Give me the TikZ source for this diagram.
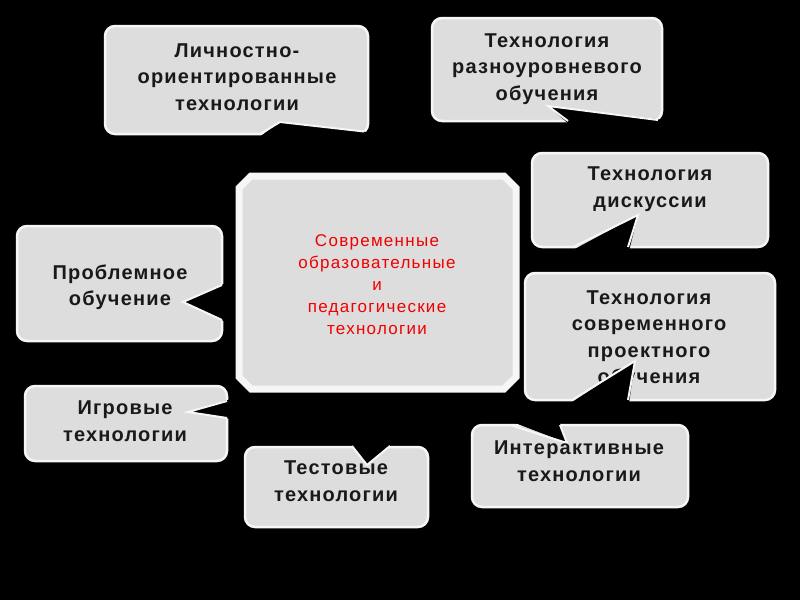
\documentclass[tikz,border=0pt]{standalone}
\usepackage{fontspec}
\setmainfont{Liberation Sans}
\definecolor{boxgrey}{RGB}{221,221,221}
\definecolor{boxedge}{RGB}{246,246,246}
\definecolor{txtred}{RGB}{240,0,0}
\tikzset{
  bubble/.style={fill=boxgrey, draw=boxedge, line width=2.5pt, rounded corners=10pt},
  notch/.style={fill=black},
  notchedge/.style={draw=boxedge, line width=2pt, line join=miter},
  lbl/.style={align=center, text=black!90, inner sep=0pt,
    font=\fontsize{20}{26.5}\selectfont\bfseries\addfontfeatures{LetterSpace=6}},
  redlbl/.style={align=center, text=txtred, inner sep=0pt,
    font=\fontsize{17}{22}\selectfont\addfontfeatures{LetterSpace=7.5}}
}
\begin{document}
\begin{tikzpicture}[x=1pt,y=-1pt]
\fill[black] (0,0) rectangle (800,600);
\useasboundingbox (0,0) rectangle (800,600);

% central box
\draw[fill=boxgrey, draw=boxedge, line width=7pt]
  (251,176) -- (504,176) -- (516,188) -- (516,377) -- (504,389)
  -- (251,389) -- (239,377) -- (239,188) -- cycle;
\node[redlbl] (c) at (377,285) {Современные\\образовательные\\и\\педагогические\\технологии};

% box 1
\path[bubble] (105,26) rectangle (368,134);
\fill[notch] (258,138) -- (280,122) -- (366,132) -- (372,138) -- cycle;
\draw[notchedge] (260,134) -- (280,122) -- (364,131.5);
\node[lbl] (t1) at (237,77) {Личностно-\\ориентированные\\технологии};

% box 2
\path[bubble] (432,18) rectangle (662,121);
\fill[notch] (548,106) -- (570,125) -- (666,125) -- (664,120) -- cycle;
\draw[notchedge] (568,121) -- (548,106) -- (658,120);
\node[lbl] (t2) at (547,69) {Технология\\разноуровневого\\обучения};

% box 3
\path[bubble] (532,153) rectangle (768,247);
\fill[notch] (571,251) -- (638,215) -- (629,251) -- cycle;
\draw[notchedge] (573,247) -- (638,215) -- (628,247);
\node[lbl] (t3) at (650,189) {Технология\\дискуссии};

% box 4
\path[bubble] (525,273) rectangle (775,400);
\node[lbl] (t4) at (649,339) {Технология\\современного\\проектного\\обучения};
\fill[notch] (569,404) -- (635,361) -- (629,404) -- cycle;
\draw[notchedge] (572,400) -- (635,361) -- (628,400);

% box 5 interactive
\path[bubble] (472,425) rectangle (688,507);
\fill[notch] (510,421) -- (567,443) -- (559,421) -- cycle;
\draw[notchedge] (510,425) -- (567,443) -- (560,425);
\node[lbl] (t5) at (579,461) {Интерактивные\\технологии};

% box 6 Проблемное
\path[bubble] (17,226) rectangle (222,341);
\fill[notch] (226,283) -- (183,302) -- (226,322) -- cycle;
\draw[notchedge] (222,285) -- (183,302) -- (222,320);
\node[lbl] (t6) at (120,287) {Проблемное\\обучение};

% box 7 Игровые
\path[bubble] (25,386) rectangle (227,461);
\fill[notch] (231,399) -- (188,412) -- (231,419) -- cycle;
\draw[notchedge] (227,401) -- (188,412) -- (227,418);
\node[lbl] (t7) at (125,421) {Игровые\\технологии};

% box 8 Тестовые
\path[bubble] (245,447) rectangle (428,527);
\fill[notch] (350,442) -- (367,465) -- (393,442) -- cycle;
\draw[notchedge] (352,446) -- (367,465) -- (390,446);
\node[lbl] (t8) at (336,481) {Тестовые\\технологии};
\end{tikzpicture}
\end{document}
